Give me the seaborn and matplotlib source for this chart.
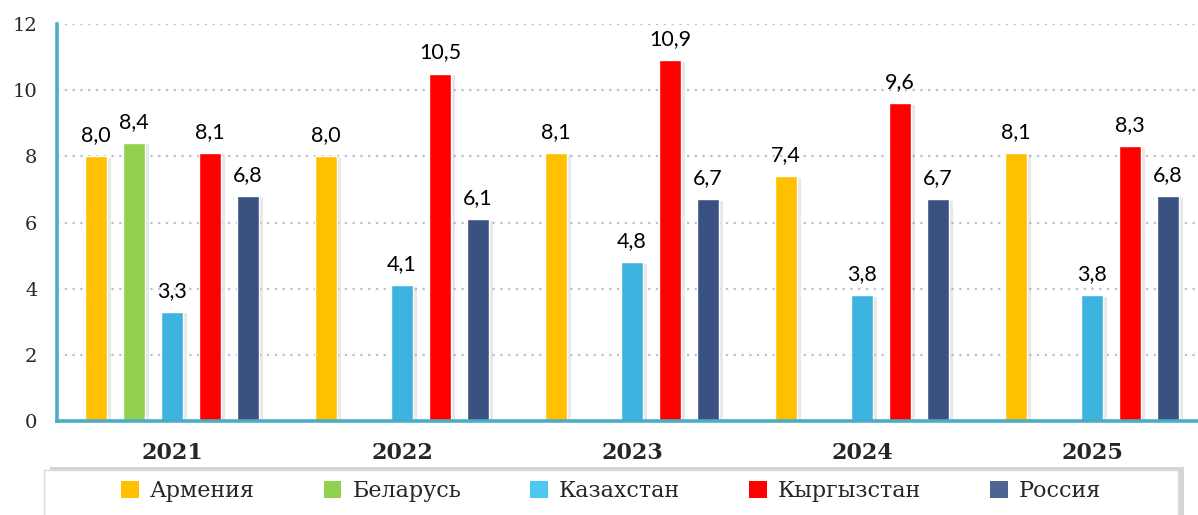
import matplotlib
matplotlib.use("Agg")
import matplotlib.pyplot as plt
import matplotlib.patheffects as pe
from matplotlib.patches import Patch, Rectangle
import numpy as np
import pandas as pd
import seaborn as sns

years = ["2021", "2022", "2023", "2024", "2025"]
countries = ["Армения", "Беларусь", "Казахстан", "Кыргызстан", "Россия"]
armenia = [8.0, 8.0, 8.1, 7.4, 8.1]
belarus = [8.4, np.nan, np.nan, np.nan, np.nan]
kazakhstan = [3.3, 4.1, 4.8, 3.8, 3.8]
kyrgyzstan = [8.1, 10.5, 10.9, 9.6, 8.3]
russia = [6.8, 6.1, 6.7, 6.7, 6.8]
y_ticks = [0, 2, 4, 6, 8, 10, 12]

colors = ["#FFC000", "#92D050", "#3DB4E0", "#FF0000", "#3A5182"]
legend_colors = ["#FFC000", "#92D050", "#4DC8F2", "#FF0000", "#4F6591"]
axis_color = "#4BACC6"

series = [armenia, belarus, kazakhstan, kyrgyzstan, russia]
rows = []
for c, vals in zip(countries, series):
    for y, v in zip(years, vals):
        rows.append({"year": y, "country": c, "value": v})
df = pd.DataFrame(rows)

sns.set_theme(style="white")
plt.rcParams["font.family"] = ["DejaVu Serif"]

W, H = 1198, 515
fig = plt.figure(figsize=(W / 100, H / 100), dpi=100)
ax = fig.add_axes([57 / W, 94 / H, 1150 / W, 397 / H])

sns.barplot(data=df.dropna(), x="year", y="value", hue="country",
            order=years, hue_order=countries, palette=colors,
            width=0.825, gap=0.42, errorbar=None, saturation=1,
            legend=False, ax=ax)

for p in ax.patches:
    p.set_path_effects([pe.SimplePatchShadow(offset=(3, -1), shadow_rgbFace="#999999", alpha=0.22),
                        pe.Normal()])

for cont in ax.containers:
    labels = []
    for b in cont:
        h = b.get_height()
        labels.append("" if np.isnan(h) else f"{h:.1f}".replace(".", ","))
    ax.bar_label(cont, labels=labels, padding=8, fontsize=15.5, family="Lato", color="black")

ax.set_xlim(-0.5, 4.5)
ax.set_ylim(0, 12)
ax.set_yticks(y_ticks)
ax.set_yticklabels([str(t) for t in y_ticks], fontsize=14)
ax.set_xticks(range(len(years)))
ax.set_xticklabels(years, fontsize=16, fontweight="bold")
ax.set_xticks([i - 0.5 for i in range(len(years) + 1)], minor=True)
ax.tick_params(axis="x", which="major", length=0, pad=15)
ax.tick_params(axis="x", which="minor", length=5, width=2, color=axis_color, direction="out")
ax.tick_params(axis="y", which="major", length=5, width=2, color=axis_color, direction="out", pad=9)
ax.set_xlabel("")
ax.set_ylabel("")

ax.yaxis.grid(True, linestyle=(0, (1, 2.5)), color="#B5C2D6", linewidth=1.6)
ax.set_axisbelow(True)
for s in ["top", "right"]:
    ax.spines[s].set_visible(False)
for s in ["left", "bottom"]:
    ax.spines[s].set_color(axis_color)
    ax.spines[s].set_linewidth(2.6)

# legend frame box
box = Rectangle((44 / W, -10 / H), 1134 / W, 55 / H,
                transform=fig.transFigure, facecolor="white", edgecolor="#DADADA",
                linewidth=1.0, zorder=1)
box.set_path_effects([pe.SimplePatchShadow(offset=(4, 2), shadow_rgbFace="#777777", alpha=0.3),
                      pe.Normal()])
fig.patches.append(box)

handles = [Patch(facecolor=c, edgecolor="none") for c in legend_colors]
leg = fig.legend(handles, countries, loc="center",
                 bbox_to_anchor=(611 / W, 1 - 491 / H),
                 ncol=5, frameon=False,
                 handlelength=0.8, handleheight=0.8, handletextpad=0.5,
                 columnspacing=3.1,
                 prop={"family": "DejaVu Serif", "size": 16})

fig.savefig("out.png", dpi=100)
